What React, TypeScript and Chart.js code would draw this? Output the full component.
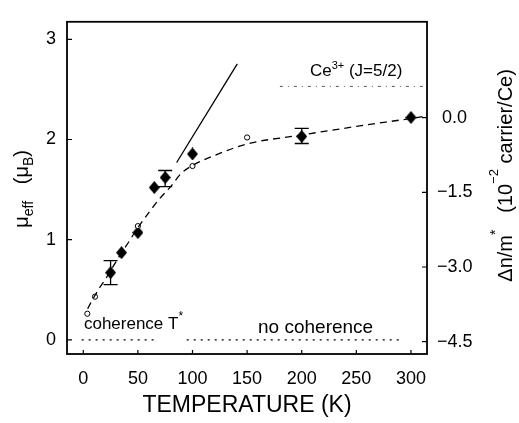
import React, { useEffect, useRef } from 'react';
import { Chart, registerables } from 'chart.js';

Chart.register(...registerables);

const FONT = '"Liberation Sans", Arial, Helvetica, sans-serif';

// axis ticks
const X_TICKS = [0, 50, 100, 150, 200, 250, 300];
const Y_TICKS = [0, 1, 2, 3];
const Y2_TICKS = [-4.5, -3.0, -1.5, 0.0];

// filled diamonds (measured mu_eff)
const DIAMOND_T = [25, 35, 50, 65, 75, 100, 200, 300];
const DIAMOND_MU = [0.67, 0.87, 1.07, 1.52, 1.62, 1.855, 2.03, 2.22];

// error bars on some diamonds
const ERR_T = [25, 75, 200];
const ERR_LO = [0.55, 1.53, 1.96];
const ERR_HI = [0.79, 1.69, 2.11];

// open circles
const CIRCLE_T = [3.7, 10.7, 50, 100, 150];
const CIRCLE_MU = [0.26, 0.43, 1.135, 1.735, 2.02];

// dashed guide curve
const CURVE_T = [4, 10, 15, 20, 25, 30, 35, 40, 50, 60, 70, 80, 90, 100, 120, 150, 200, 250, 300, 312];
const CURVE_MU = [0.31, 0.43, 0.52, 0.6, 0.69, 0.78, 0.87, 0.95, 1.12, 1.27, 1.41, 1.53, 1.665, 1.74, 1.84, 1.955, 2.045, 2.13, 2.21, 2.23];

// solid straight line
const SOLID_T = [85.5, 141];
const SOLID_MU = [1.77, 2.755];

// Ce3+ (J=5/2) free-ion level
const CE_T = [180, 316];
const CE_MU = [2.53, 2.53];

// coherence / no coherence dotted lines
const COH_T = [-1.5, 67.5];
const NOCOH_T = [94.7, 291.5];
const COH_MU = [0, 0];

const pts = (xs: number[], ys: number[]) => xs.map((x, i) => ({ x, y: ys[i] }));

type Seg = { t: string; size: number; dy?: number };

function drawRich(ctx: CanvasRenderingContext2D, segs: Seg[], x: number, y: number, rot: number, align: 'left' | 'center') {
  ctx.save();
  ctx.translate(x, y);
  ctx.rotate(rot);
  ctx.textBaseline = 'alphabetic';
  ctx.textAlign = 'left';
  const widths = segs.map((s) => {
    ctx.font = `${s.size}px ${FONT}`;
    return ctx.measureText(s.t).width;
  });
  const total = widths.reduce((a, b) => a + b, 0);
  let cx = align === 'center' ? -total / 2 : 0;
  segs.forEach((s, i) => {
    ctx.font = `${s.size}px ${FONT}`;
    ctx.fillText(s.t, cx, s.dy || 0);
    cx += widths[i];
  });
  ctx.restore();
}

const framePlugin = {
  id: 'frameTicks',
  afterDatasetsDraw(chart: any) {
    const { ctx, chartArea: a, scales } = chart;
    ctx.save();
    ctx.strokeStyle = '#000';
    // error bars
    ctx.lineWidth = 1.3;
    ERR_T.forEach((t, i) => {
      const px = scales.x.getPixelForValue(t);
      const lo = scales.y.getPixelForValue(ERR_LO[i]);
      const hi = scales.y.getPixelForValue(ERR_HI[i]);
      ctx.beginPath();
      ctx.moveTo(px, lo);
      ctx.lineTo(px, hi);
      ctx.moveTo(px - 7, lo);
      ctx.lineTo(px + 7, lo);
      ctx.moveTo(px - 7, hi);
      ctx.lineTo(px + 7, hi);
      ctx.stroke();
    });
    // frame
    ctx.lineWidth = 1.8;
    ctx.strokeRect(a.left, a.top, a.right - a.left, a.bottom - a.top);
    // inward ticks
    ctx.lineWidth = 1.2;
    ctx.beginPath();
    X_TICKS.forEach((t) => {
      const px = scales.x.getPixelForValue(t);
      ctx.moveTo(px, a.bottom);
      ctx.lineTo(px, a.bottom - 4);
    });
    Y_TICKS.forEach((t) => {
      const py = scales.y.getPixelForValue(t);
      ctx.moveTo(a.left, py);
      ctx.lineTo(a.left + 5, py);
    });
    Y2_TICKS.forEach((t) => {
      const py = scales.y2.getPixelForValue(t);
      ctx.moveTo(a.right, py);
      ctx.lineTo(a.right - 5, py);
    });
    ctx.stroke();
    ctx.restore();
  },
  afterDraw(chart: any) {
    const { ctx, chartArea: a, scales } = chart;
    const sx = scales.x;
    const sy = scales.y;
    ctx.save();
    ctx.fillStyle = '#000';
    drawRich(ctx, [{ t: 'coherence T', size: 17 }, { t: '*', size: 12, dy: -9 }], sx.getPixelForValue(0.6), sy.getPixelForValue(0.104), 0, 'left');
    drawRich(ctx, [{ t: 'no coherence', size: 19 }], sx.getPixelForValue(160), sy.getPixelForValue(0.07), 0, 'left');
    drawRich(ctx, [{ t: 'Ce', size: 17 }, { t: '3+', size: 11, dy: -7 }, { t: ' (J=5/2)', size: 17 }], sx.getPixelForValue(207.5), sy.getPixelForValue(2.63), 0, 'left');
    // left axis title
    drawRich(
      ctx,
      [
        { t: '\u03bc', size: 20 },
        { t: 'eff', size: 14, dy: 5 },
        { t: '   (\u03bc', size: 20 },
        { t: 'B', size: 14, dy: 5 },
        { t: ')', size: 20 },
      ],
      a.left - 39,
      (a.top + a.bottom) / 2 + 1,
      -Math.PI / 2,
      'center'
    );
    // right axis title
    drawRich(
      ctx,
      [
        { t: '\u0394n/m', size: 20 },
        { t: '*', size: 14, dy: -12 },
        { t: '   (10', size: 20 },
        { t: '\u22122', size: 13, dy: -14 },
        { t: ' carrier/Ce)', size: 20 },
      ],
      a.right + 85,
      (a.top + a.bottom) / 2 - 12.5,
      -Math.PI / 2,
      'center'
    );
    ctx.restore();
  },
};

function makeDiamond(w: number, h: number) {
  const c = document.createElement('canvas');
  c.width = w;
  c.height = h;
  const g = c.getContext('2d')!;
  g.fillStyle = '#000';
  g.beginPath();
  g.moveTo(w / 2, 0);
  g.lineTo(w, h / 2);
  g.lineTo(w / 2, h);
  g.lineTo(0, h / 2);
  g.closePath();
  g.fill();
  return c;
}

export default function App() {
  const ref = useRef<HTMLCanvasElement | null>(null);
  useEffect(() => {
    if (!ref.current) return;
    const diamond = makeDiamond(11, 13);
    const lineBase = { showLine: true, pointRadius: 0, borderColor: '#000', fill: false, yAxisID: 'y' };
    const chart = new Chart(ref.current, {
      type: 'scatter',
      data: {
        datasets: [
          { ...lineBase, data: pts(COH_T, COH_MU), borderWidth: 1.2, borderDash: [2, 5] },
          { ...lineBase, data: pts(NOCOH_T, COH_MU), borderWidth: 1.2, borderDash: [2, 5] },
          { ...lineBase, data: pts(CE_T, CE_MU), borderWidth: 1, borderColor: '#555', borderDash: [3, 5, 1, 5] },
          { ...lineBase, data: pts(CURVE_T, CURVE_MU), borderWidth: 1.3, borderDash: [7, 5], cubicInterpolationMode: 'monotone' },
          { ...lineBase, data: pts(SOLID_T, SOLID_MU), borderWidth: 1.3 },
          {
            data: pts(CIRCLE_T, CIRCLE_MU),
            showLine: false,
            pointStyle: 'circle',
            pointRadius: 2.6,
            pointBorderWidth: 1,
            pointBorderColor: '#000',
            pointBackgroundColor: '#fff',
            yAxisID: 'y',
          },
          {
            data: pts(DIAMOND_T, DIAMOND_MU),
            showLine: false,
            pointStyle: diamond,
            pointRadius: 6,
            yAxisID: 'y',
          },
        ] as any,
      },
      options: {
        animation: false,
        responsive: false,
        events: [],
        layout: { padding: { top: 4, left: 0, right: 0, bottom: 0 } },
        plugins: { legend: { display: false }, tooltip: { enabled: false } },
        scales: {
          x: {
            type: 'linear',
            position: 'bottom',
            min: -14.9,
            max: 314.7,
            grid: { display: false, drawTicks: false },
            border: { display: false },
            afterBuildTicks: (s: any) => {
              s.ticks = X_TICKS.map((v) => ({ value: v }));
            },
            afterFit: (s: any) => {
              s.height = 69;
            },
            ticks: {
              padding: 14,
              color: '#000',
              font: { size: 18, family: FONT },
              maxRotation: 0,
              autoSkip: false,
              callback: (v: any) => String(v),
            },
            title: {
              display: true,
              text: 'TEMPERATURE (K)',
              color: '#000',
              font: { size: 23, family: FONT },
              padding: { top: 0, bottom: 4 },
            },
          },
          y: {
            type: 'linear',
            position: 'left',
            min: -0.142,
            max: 3.175,
            grid: { display: false, drawTicks: false },
            border: { display: false },
            afterBuildTicks: (s: any) => {
              s.ticks = Y_TICKS.map((v) => ({ value: v }));
            },
            afterFit: (s: any) => {
              s.width = 67;
            },
            ticks: {
              padding: 11,
              color: '#000',
              font: { size: 18, family: FONT },
              autoSkip: false,
              callback: (v: any) => String(v),
            },
          },
          y2: {
            type: 'linear',
            position: 'right',
            min: -4.748,
            max: 1.927,
            grid: { display: false, drawTicks: false },
            border: { display: false },
            afterBuildTicks: (s: any) => {
              s.ticks = Y2_TICKS.map((v) => ({ value: v }));
            },
            afterFit: (s: any) => {
              s.width = 92;
            },
            ticks: {
              padding: 10,
              color: '#000',
              font: { size: 18, family: FONT },
              autoSkip: false,
              callback: (v: any) => {
                const n = Number(v);
                return n < 0 ? '\u2212' + Math.abs(n).toFixed(1) : ' ' + n.toFixed(1);
              },
            },
          },
        },
      } as any,
      plugins: [framePlugin],
    });
    return () => chart.destroy();
  }, []);
  return (
    <div style={{ position: 'fixed', left: 0, top: 0, width: 519, height: 423, background: '#fff' }}>
      <canvas ref={ref} width={519} height={423} style={{ display: 'block', width: 519, height: 423 }} />
    </div>
  );
}
